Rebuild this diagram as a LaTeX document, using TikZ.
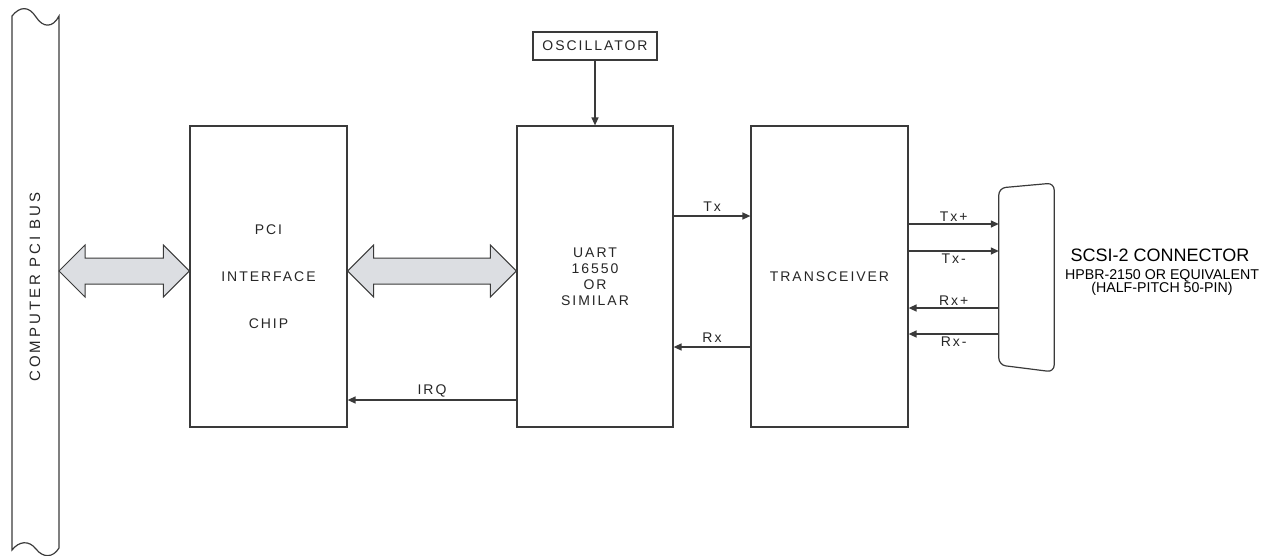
\documentclass[tikz,border=0pt]{standalone}
\usepackage{fontspec}
\setmainfont{Liberation Sans}
\newfontfamily\spacedfont{Liberation Sans}[LetterSpace=14]
\newfontfamily\widefont{Liberation Sans}[LetterSpace=20]
\usepackage{tikz}
\usetikzlibrary{arrows.meta,positioning,calc}

\definecolor{linegray}{HTML}{3A3A3A}
\definecolor{busfill}{HTML}{DCDEE2}

% wide bus arrow between two points
\newcommand{\fatarrow}[2]{%
  \draw[fatarrow] (#1)
    -- ([shift={(26pt,26pt)}]#1) -- ([shift={(26pt,13pt)}]#1)
    -- ([shift={(-26pt,13pt)}]#2) -- ([shift={(-26pt,26pt)}]#2)
    -- (#2)
    -- ([shift={(-26pt,-26pt)}]#2) -- ([shift={(-26pt,-13pt)}]#2)
    -- ([shift={(26pt,-13pt)}]#1) -- ([shift={(26pt,-26pt)}]#1) -- cycle;}

\begin{document}
\begin{tikzpicture}[
    x=1pt, y=-1pt,
    box/.style={rectangle, draw=linegray, line width=1.2pt, minimum width=157pt, minimum height=301pt, inner sep=0pt, align=center, text=black!85, font=\spacedfont\fontsize{14}{16}\selectfont},
    oscbox/.style={box, minimum width=124pt, minimum height=28pt},
    busline/.style={draw=linegray, line width=1.2pt},
    fatarrow/.style={draw=linegray, line width=1pt, fill=busfill, line join=miter},
    sig/.style={draw=linegray, line width=1.4pt, -{Triangle[length=8pt,width=7pt]}},
    lbl/.style={font=\spacedfont\fontsize{14}{16}\selectfont, text=black!85, inner sep=2pt},
  ]
    \useasboundingbox (0,0) rectangle (1264,555);

    % PCI bus strip
    \draw[busline] (12,16) .. controls (20,6) and (29,6) .. (36,17)
      .. controls (43,28) and (53,28) .. (59,16) -- (59,548)
      .. controls (53,558) and (43,558) .. (36,549)
      .. controls (29,540) and (19,541) .. (12,550) -- cycle;
    \node[lbl, rotate=90, font=\widefont\fontsize{15}{16}\selectfont] (buslabel) at (35,287) {COMPUTER PCI BUS};
    \coordinate (busR) at (59,271);

    \node[box] (pci) at (268.5,276.5) {PCI\\[31pt]INTERFACE\\[31pt]CHIP};
    \node[box, minimum width=156pt] (uart) at (595,276.5) {UART\\16550\\OR\\SIMILAR};
    \node[box] (xcvr) at (829.5,276.5) {TRANSCEIVER};
    \node[oscbox] (osc) at (595,46) {OSCILLATOR};

    % SCSI connector outline
    \node[minimum width=55pt, minimum height=180pt, inner sep=0pt] (conn) at (1026.5,277.5) {};
    \draw[busline, rounded corners=7pt] (conn.west |- 0,188) -- (conn.east |- 0,183)
      -- (conn.east |- 0,372) -- (conn.west |- 0,365) -- cycle;
    \node[font=\fontsize{18}{20}\selectfont] (scsi) at (1160,255) {SCSI-2 CONNECTOR};
    \node[font=\fontsize{14.2}{13}\selectfont, align=center] (scsisub) at (1162,283) {HPBR-2150 OR EQUIVALENT\\(HALF-PITCH 50-PIN)};

    % buses
    \fatarrow{busR}{pci.west |- busR}
    \fatarrow{pci.east |- busR}{uart.west |- busR}

    % signals
    \draw[sig] (osc) -- (uart);
    \draw[sig] (uart.east |- 0,216) -- (xcvr.west |- 0,216) node[midway, above=2pt, lbl] {Tx};
    \draw[sig] (xcvr.west |- 0,347) -- (uart.east |- 0,347) node[midway, above=2pt, lbl] {Rx};
    \draw[sig] (uart.west |- 0,400) -- (pci.east |- 0,400) node[midway, above=0pt, lbl] {IRQ};
    \draw[sig] (xcvr.east |- 0,224) -- (conn.west |- 0,224) node[midway, above=0pt, lbl] {Tx+};
    \draw[sig] (xcvr.east |- 0,251) -- (conn.west |- 0,251) node[midway, below=0pt, lbl] {Tx-};
    \draw[sig] (conn.west |- 0,308) -- (xcvr.east |- 0,308) node[midway, above=0pt, lbl] {Rx+};
    \draw[sig] (conn.west |- 0,334) -- (xcvr.east |- 0,334) node[midway, below=0pt, lbl] {Rx-};
  \end{tikzpicture}
\end{document}
